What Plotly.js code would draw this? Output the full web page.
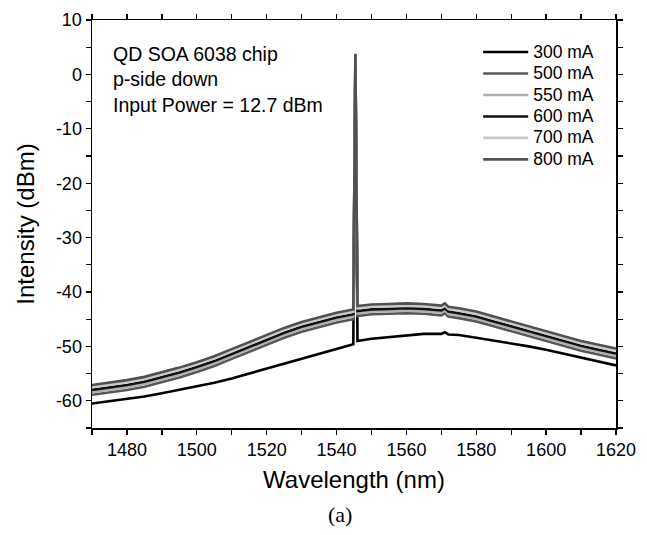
<!DOCTYPE html>
<html>
<head>
<meta charset="utf-8">
<script src="https://cdn.plot.ly/plotly-3.0.1.min.js"></script>
<style>html,body{margin:0;padding:0;background:#fff;}#chart{width:647px;height:535px;}</style>
</head>
<body>
<div id="chart"></div>
<script>
// Wavelength (nm)
var wavelength = [1470,1475,1480,1485,1490,1495,1500,1505,1510,1515,1520,1525,1530,1535,1540,1544.8,1545.4,1546.0,1550,1555,1560,1565,1570,1571,1572,1575,1580,1585,1590,1595,1600,1605,1610,1615,1620];

// Intensity (dBm) per drive current
var i300 = [-60.5,-60.1,-59.7,-59.2,-58.6,-58.0,-57.4,-56.7,-55.9,-55.0,-54.1,-53.2,-52.2,-51.3,-50.5,-49.6,2.0,-49.0,-48.6,-48.3,-47.9,-47.7,-47.7,-47.4,-47.8,-47.9,-48.4,-48.9,-49.4,-50.0,-50.6,-51.3,-52.0,-52.7,-53.5];
var i500 = [-58.9,-58.5,-58.0,-57.4,-56.6,-55.7,-54.7,-53.6,-52.3,-51.0,-49.7,-48.4,-47.3,-46.4,-45.6,-45.0,3.2,-44.4,-44.1,-44.0,-43.9,-44.0,-44.3,-43.9,-44.5,-44.8,-45.4,-46.3,-47.2,-48.2,-49.1,-50.0,-50.8,-51.5,-52.2];
var i550 = [-58.4,-58.0,-57.5,-56.9,-56.1,-55.2,-54.2,-53.1,-51.8,-50.5,-49.2,-47.9,-46.8,-45.9,-45.1,-44.5,3.4,-43.9,-43.6,-43.5,-43.4,-43.5,-43.8,-43.4,-44.0,-44.3,-44.9,-45.8,-46.7,-47.7,-48.6,-49.5,-50.3,-51.0,-51.7];
var i600 = [-58.0,-57.6,-57.1,-56.5,-55.7,-54.8,-53.8,-52.7,-51.4,-50.1,-48.8,-47.5,-46.4,-45.5,-44.7,-44.1,3.5,-43.5,-43.2,-43.1,-43.0,-43.1,-43.4,-43.0,-43.6,-43.9,-44.5,-45.4,-46.3,-47.3,-48.2,-49.1,-49.9,-50.6,-51.3];
var i700 = [-57.5,-57.1,-56.6,-56.0,-55.2,-54.3,-53.3,-52.2,-50.9,-49.6,-48.3,-47.0,-45.9,-45.0,-44.2,-43.6,3.6,-43.0,-42.7,-42.6,-42.5,-42.6,-42.9,-42.5,-43.1,-43.4,-44.0,-44.9,-45.8,-46.8,-47.7,-48.6,-49.4,-50.1,-50.8];
var i800 = [-57.1,-56.7,-56.2,-55.6,-54.8,-53.9,-52.9,-51.8,-50.5,-49.2,-47.9,-46.6,-45.5,-44.6,-43.8,-43.2,3.8,-42.6,-42.3,-42.2,-42.1,-42.2,-42.5,-42.1,-42.7,-43.0,-43.6,-44.5,-45.4,-46.4,-47.3,-48.2,-49.0,-49.7,-50.4];

var seriesNames = ['300 mA','500 mA','550 mA','600 mA','700 mA','800 mA'];
var seriesColors = ['#000000','#575757','#b0b0b0','#111111','#cacaca','#505050'];
var seriesValues = [i300,i500,i550,i600,i700,i800];

var xTickVals = [1470,1480,1490,1500,1510,1520,1530,1540,1550,1560,1570,1580,1590,1600,1610,1620];
var xTickText = ['','1480','','1500','','1520','','1540','','1560','','1580','','1600','','1620'];
var yTickVals = [-65,-60,-55,-50,-45,-40,-35,-30,-25,-20,-15,-10,-5,0,5,10];
var yTickText = ['','-60','','-50','','-40','','-30','','-20','','-10','','0','','10'];

var noteLines = ['QD SOA 6038 chip','p-side down','Input Power = 12.7 dBm'];
var panelLabel = '(a)';

var traces = seriesValues.map(function(v,i){
  return {x: wavelength, y: v, type:'scatter', mode:'lines',
    name: '<span style="font-size:17.5px">' + seriesNames[i] + '</span>',
    line:{color: seriesColors[i], width: 2.6}};
});

var font = 'Liberation Sans, Arial, sans-serif';
var layout = {
  width:647, height:535,
  margin:{l:92, r:31, t:20, b:107},
  paper_bgcolor:'#fff', plot_bgcolor:'#fff',
  showlegend:true,
  legend:{x:0.737, y:0.96, xanchor:'left', yanchor:'top', bgcolor:'rgba(0,0,0,0)',
    font:{family:font, size:14.2, color:'#000'}, itemwidth:45, tracegroupgap:0, traceorder:'normal'},
  xaxis:{range:[1470,1620], tickmode:'array', tickvals:xTickVals, ticktext:xTickText,
    ticks:'outside', ticklen:5, tickwidth:1.3, tickcolor:'#000',
    showline:true, linecolor:'#000', linewidth:1.5, mirror:'ticks', showgrid:false, zeroline:false,
    tickfont:{family:font, size:18, color:'#000'},
    title:{text:'Wavelength (nm)', font:{family:font, size:24, color:'#000'}, standoff:12}},
  yaxis:{range:[-65,10], tickmode:'array', tickvals:yTickVals, ticktext:yTickText,
    ticks:'outside', ticklen:5, tickwidth:1.3, tickcolor:'#000',
    showline:true, linecolor:'#000', linewidth:1.5, mirror:'ticks', showgrid:false, zeroline:false,
    tickfont:{family:font, size:18, color:'#000'},
    title:{text:'Intensity (dBm)', font:{family:font, size:24, color:'#000'}, standoff:14}},
  annotations:[
    {xref:'paper', yref:'paper', x:0.036, y:0.948, xanchor:'left', yanchor:'top', align:'left',
     showarrow:false, text: noteLines.join('<br>'), font:{family:font, size:19.5, color:'#000'}},
    {xref:'paper', yref:'paper', x:0.474, y:-0.211, xanchor:'center', yanchor:'middle',
     showarrow:false, text: panelLabel, font:{family:'Liberation Serif, Times New Roman, serif', size:22, color:'#000'}}
  ]
};

Plotly.newPlot('chart', traces, layout, {displayModeBar:false, staticPlot:true});
</script>
</body>
</html>
